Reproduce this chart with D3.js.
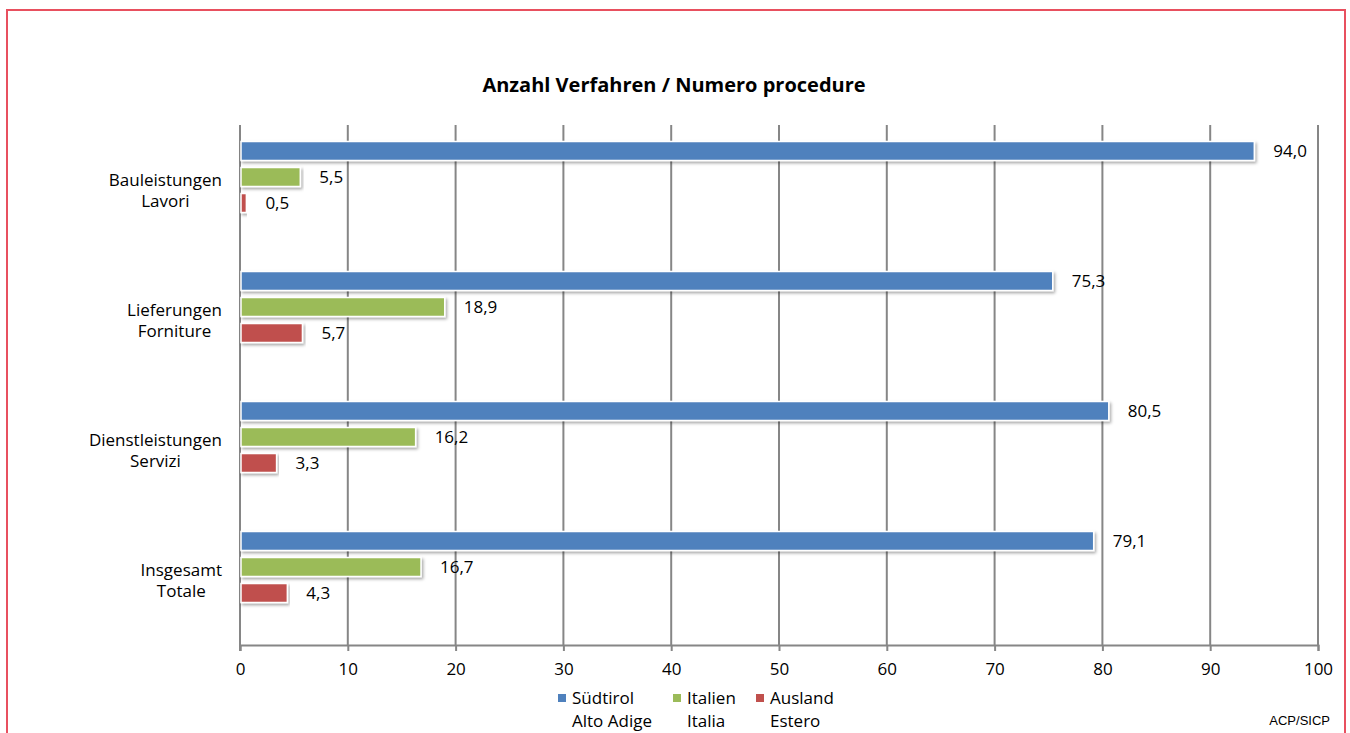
<!DOCTYPE html>
<html>
<head>
<meta charset="utf-8">
<script src="https://cdn.jsdelivr.net/npm/d3@7"></script>
<style>
  body { margin: 0; background: #fff; }
  svg { display: block; font-family: "Open Sans", "Liberation Sans", sans-serif; }
</style>
</head>
<body>
<svg width="1350" height="733"></svg>
<script>
const categories = [["Bauleistungen", "Lavori"], ["Lieferungen", "Forniture"], ["Dienstleistungen", "Servizi"], ["Insgesamt", "Totale"]];
const seriesNames = [["Südtirol", "Alto Adige"], ["Italien", "Italia"], ["Ausland", "Estero"]];
const suedtirol = [94.0, 75.3, 80.5, 79.1];
const italien = [5.5, 18.9, 16.2, 16.7];
const ausland = [0.5, 5.7, 3.3, 4.3];
const colors = ["#4f81bd", "#9bbb59", "#c0504d"];
const xTicks = [0, 10, 20, 30, 40, 50, 60, 70, 80, 90, 100];

const series = [suedtirol, italien, ausland];

var svg = d3.select('svg');

// shadow for bars
var defs = svg.append('defs');
var f = defs.append('filter').attr('id', 'sh').attr('x', '-5%').attr('y', '-50%').attr('width', '110%').attr('height', '200%');
f.append('feDropShadow').attr('dx', 1.5).attr('dy', 2).attr('stdDeviation', 1.5).attr('flood-color', '#000').attr('flood-opacity', 0.35);

// frame
svg.append('rect')
   .attr('x', 7).attr('y', 10).attr('width', 1338).attr('height', 740)
   .attr('fill', 'none').attr('stroke', '#e8505f').attr('stroke-width', 2);

var plotLeft = 240, plotRight = 1318, plotTop = 125, plotBottom = 645;

var x = d3.scaleLinear().domain([0, 100]).range([plotLeft, plotRight]);
var y = d3.scaleBand().domain(d3.range(categories.length)).range([plotTop, plotBottom]);
var inner = d3.scaleBand().domain(d3.range(3)).range([16.5, 87.5]).paddingInner(0.27).paddingOuter(0);

svg.append('text')
   .attr('x', 674).attr('y', 92)
   .attr('text-anchor', 'middle')
   .attr('font-size', 20).attr('font-weight', 'bold')
   .attr('fill', '#000')
   .text('Anzahl Verfahren / Numero procedure');

// gridlines
svg.append('g')
   .selectAll('line')
   .data(xTicks)
   .enter().append('line')
   .attr('x1', d => x(d)).attr('x2', d => x(d))
   .attr('y1', plotTop).attr('y2', plotBottom)
   .attr('stroke', '#868686').attr('stroke-width', 2);

// x axis
var xAxis = svg.append('g')
   .attr('transform', 'translate(0,' + plotBottom + ')')
   .call(d3.axisBottom(x).tickValues(xTicks).tickSize(6).tickPadding(12).tickFormat(d3.format('d')));
xAxis.select('.domain').attr('stroke', '#868686').attr('stroke-width', 2);
xAxis.selectAll('.tick line').attr('stroke', '#868686').attr('stroke-width', 2);
xAxis.selectAll('text').attr('font-size', 17).attr('fill', '#000').attr('font-family', '"Open Sans", "Liberation Sans", sans-serif');

// y axis line
svg.append('line')
   .attr('x1', plotLeft).attr('x2', plotLeft).attr('y1', plotTop).attr('y2', plotBottom + 6)
   .attr('stroke', '#868686').attr('stroke-width', 2);

// bars
var fmt = v => v.toFixed(1).replace('.', ',');
series.forEach(function(vals, s) {
  var g = svg.append('g');
  g.selectAll('rect')
   .data(vals)
   .enter().append('rect')
   .attr('x', x(0) + 1)
   .attr('y', (d, i) => y(i) + inner(s))
   .attr('width', d => x(d) - x(0))
   .attr('height', inner.bandwidth())
   .attr('fill', colors[s])
   .attr('stroke', '#fff').attr('stroke-width', 1.5)
   .attr('filter', 'url(#sh)');
  g.selectAll('text')
   .data(vals)
   .enter().append('text')
   .attr('x', d => x(d) + 20)
   .attr('y', (d, i) => y(i) + inner(s) + inner.bandwidth() / 2)
   .attr('dy', '0.35em')
   .attr('font-size', 17).attr('fill', '#000')
   .text(d => fmt(d));
});

// category labels (two lines, centred on each other, right edge at 222)
categories.forEach(function(c, i) {
  var g = svg.append('g');
  var cy = y(i) + y.bandwidth() / 2;
  var t = g.selectAll('text').data(c).enter().append('text')
    .attr('y', (d, k) => cy + (k === 0 ? -10 : 11))
    .attr('dy', '0.35em')
    .attr('text-anchor', 'middle')
    .attr('font-size', 17).attr('fill', '#000')
    .text(d => d);
  var w = d3.max(t.nodes(), n => n.getComputedTextLength());
  t.attr('x', 222 - w / 2);
});

// legend
var legX = [558, 673, 756];
seriesNames.forEach(function(n, s) {
  var g = svg.append('g').attr('transform', 'translate(' + legX[s] + ',698)');
  g.append('rect').attr('x', 0).attr('y', -4).attr('width', 8).attr('height', 8).attr('fill', colors[s]);
  g.selectAll('text').data(n).enter().append('text')
   .attr('x', 14).attr('y', (d, k) => k * 23)
   .attr('dy', '0.35em')
   .attr('font-size', 17).attr('fill', '#000')
   .text(d => d);
});

svg.append('text')
   .attr('x', 1330).attr('y', 725)
   .attr('text-anchor', 'end')
   .attr('font-size', 13).attr('fill', '#000')
   .attr('font-family', '"Liberation Sans", Arial, sans-serif')
   .text('ACP/SICP');
</script>
</body>
</html>
